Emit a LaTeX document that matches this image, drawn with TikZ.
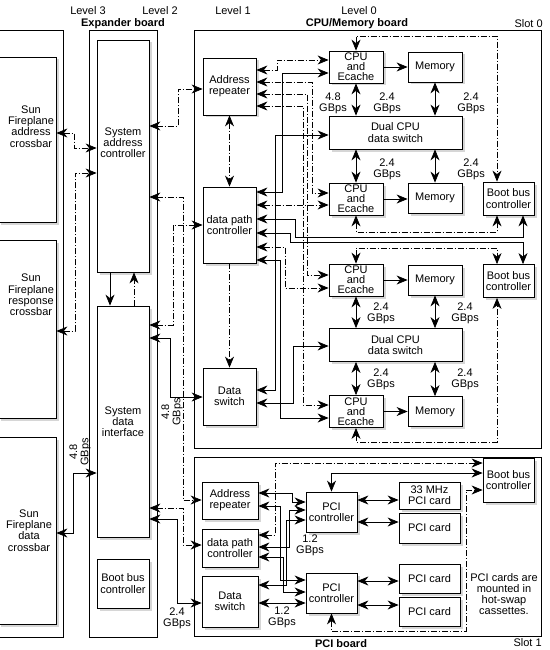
\documentclass[tikz,border=0pt]{standalone}
\usepackage{fontspec}
\setmainfont{Liberation Sans}
\usetikzlibrary{arrows.meta,shadows}

\begin{document}
\begin{tikzpicture}[x=1pt,y=-1pt,
  font=\fontsize{11}{11.2}\selectfont,
  line width=0.7pt,
  >={Stealth[length=11pt,width=9pt,inset=3.5pt]},
  box/.style={draw,fill=white,line width=0.8pt,align=center,inner sep=1pt,
    drop shadow={shadow xshift=2.5pt,shadow yshift=-2.5pt,fill=black!32}},
  cpu/.style={box,minimum width=54pt,minimum height=32pt,
    font=\fontsize{11}{10}\selectfont},
  mem/.style={box,minimum width=54pt,minimum height=30pt},
  dual/.style={box,minimum width=133pt,minimum height=33pt},
  bbc/.style={box,minimum width=51pt,minimum height=33pt},
  lvl/.style={box,minimum width=53pt},
  pcl/.style={box,minimum width=56pt},
  ctl/.style={box,minimum width=51pt,minimum height=40pt},
  card/.style={box,minimum width=61pt,minimum height=29pt},
  board/.style={draw,line width=0.8pt},
  addr/.style={dash pattern=on 6pt off 2pt on 1pt off 2pt},
  lbl/.style={align=center,inner sep=0pt},
  hd/.style={inner sep=0pt,font=\fontsize{11}{11}\selectfont\bfseries}]

\useasboundingbox (0,0) rectangle (549,650);
\clip (0,0) rectangle (549,650);

% board outlines
\draw[board] (0,30) -- (63,30) -- (63,637) -- (0,637);
\draw[board] (89,30) rectangle (157,637);
\draw[board] (194,30) rectangle (541,448);
\draw[board] (194,457) rectangle (541,636);

% headings
\node[lbl] (lv3) at (88,11) {Level 3};
\node[lbl] (lv2) at (160,11) {Level 2};
\node[lbl] (lv1) at (233,11) {Level 1};
\node[lbl] (lv0) at (359,11) {Level 0};
\node[hd] (exph) at (123,23.5) {Expander board};
\node[hd] (cpuh) at (357,23.5) {CPU/Memory board};
\node[lbl,anchor=east] (slot0) at (543,23.5) {Slot 0};
\node[hd] (pcih) at (341,644) {PCI board};
\node[lbl,anchor=east] (slot1) at (542,643) {Slot 1};

% Sun Fireplane crossbars
\node[box,minimum width=58pt,minimum height=165pt,
  label={[lbl,xshift=4pt,yshift=13pt]center:Sun\\Fireplane\\address\\crossbar}]
  (sunA) at (27,139.5) {};
\node[box,minimum width=58pt,minimum height=178pt,
  label={[lbl,xshift=4pt,yshift=34pt]center:Sun\\Fireplane\\response\\crossbar}]
  (sunR) at (27,329) {};
\node[box,minimum width=58pt,minimum height=187pt,
  label={[lbl,xshift=2pt]center:Sun\\Fireplane\\data\\crossbar}]
  (sunD) at (27,530.5) {};

% expander board
\node[box,minimum width=52pt,minimum height=232pt,
  label={[lbl,yshift=13pt]center:System\\address\\controller}] (sac) at (123,156) {};
\node[box,minimum width=52pt,minimum height=231pt] (sdi) at (123,421.5) {System\\data\\interface};
\node[box,minimum width=52pt,minimum height=49pt] (ebbc) at (123,583.5) {Boot bus\\controller};

% CPU/Memory board
\node[lvl,minimum height=57pt] (ar) at (229.5,86.5) {Address\\repeater};
\node[lvl,minimum height=76pt] (dpc) at (229.5,225) {data path\\controller};
\node[lvl,minimum height=57pt] (ds) at (229.5,396.5) {Data\\switch};
\node[cpu] (cpuA) at (356,67) {CPU\\and\\Ecache};
\node[mem] (memA) at (435,67) {Memory};
\node[dual] (dcdsA) at (395.5,132.5) {Dual CPU\\data switch};
\node[cpu] (cpuB) at (356,199) {CPU\\and\\Ecache};
\node[mem] (memB) at (435,198) {Memory};
\node[bbc] (bbcA) at (508.5,198.5) {Boot bus\\controller};
\node[cpu] (cpuC) at (356,280) {CPU\\and\\Ecache};
\node[mem] (memC) at (435,280) {Memory};
\node[bbc] (bbcB) at (508.5,281) {Boot bus\\controller};
\node[dual] (dcdsB) at (395.5,345) {Dual CPU\\data switch};
\node[cpu] (cpuD) at (356,411.5) {CPU\\and\\Ecache};
\node[mem] (memD) at (435,411.5) {Memory};

% PCI board
\node[pcl,minimum height=37pt] (par) at (230,500.5) {Address\\repeater};
\node[pcl,minimum height=38pt] (pdpc) at (230,548) {data path\\controller};
\node[pcl,minimum height=51pt] (pds) at (230,601.5) {Data\\switch};
\node[ctl] (pcA) at (331.5,512) {PCI\\controller};
\node[ctl] (pcB) at (331.5,593) {PCI\\controller};
\node[card,minimum height=27pt] (card33) at (429.5,495.5) {33 MHz\\PCI card};
\node[card,minimum height=30pt] (cardB) at (429.5,528) {PCI card};
\node[card] (cardC) at (429.5,578.5) {PCI card};
\node[card] (cardD) at (429.5,611.5) {PCI card};
\node[bbc,minimum height=44pt] (pbbc) at (508.5,480) {Boot bus\\controller};
\node[lbl] (note) at (504,594) {PCI cards are\\mounted in\\hot-swap\\cassettes.};

% bandwidth labels
\node[lbl] (bw0) at (333,103) {4.8\\GBps};
\node[lbl] (bw1) at (387,103) {2.4\\GBps};
\node[lbl] (bw2) at (471,103) {2.4\\GBps};
\node[lbl] (bw3) at (387,169) {2.4\\GBps};
\node[lbl] (bw4) at (471,169) {2.4\\GBps};
\node[lbl] (bw5) at (381,313) {2.4\\GBps};
\node[lbl] (bw6) at (465,313) {2.4\\GBps};
\node[lbl] (bw7) at (381,379) {2.4\\GBps};
\node[lbl] (bw8) at (465,379) {2.4\\GBps};
\node[lbl,rotate=90] (bwx) at (80,452) {4.8\\GBps};
\node[lbl,rotate=90] (bwy) at (172,412) {4.8\\GBps};
\node[lbl] (bwz) at (177,618) {2.4\\GBps};
\node[lbl] (bwp) at (310,545) {1.2\\GBps};
\node[lbl] (bwq) at (282,617) {1.2\\GBps};

% crossbars to expander
\draw[addr,<->] (sunA.east |- 0,133) -| (74,148) -- (sac.west |- 0,148);
\draw[addr,<->] (sunR.east |- 0,331) -| (75,173) -- (sac.west |- 0,173);
\draw[<->] (sunD.east |- 0,533) -| (73,473) -- (sdi.west |- 0,473);
\draw[->] (sac.south -| 110,0) -- (sdi.north -| 110,0);
\draw[addr,->] (sdi.north -| 134,0) -- (sac.south -| 134,0);

% expander to boards
\draw[addr,<->] (sac.east |- 0,126) -| (178,89) -- (ar.west |- 0,89);
\draw[addr,<->] (sac.east |- 0,197) -| (183,500) -- (par.west |- 0,500);
\draw[addr,<->] (sdi.east |- 0,325) -| (173,225) -- (dpc.west);
\draw[<->] (sdi.east |- 0,338) -| (170,397) -- (ds.west |- 0,397);
\draw[addr,<->] (sdi.east |- 0,508) -| (183,545) -- (pdpc.west |- 0,545);
\draw[<->] (sdi.east |- 0,519) -| (177,603) -- (pds.west |- 0,603);

% level 1 on CPU/Memory board
\draw[addr,<->] (ar) -- (dpc);
\draw[addr,->] (dpc) -- (ds);
\draw[addr,<->] (ar.east |- 0,70) -| (277,60) -- (cpuA.west |- 0,60);
\draw[addr,<->] (ar.east |- 0,82) -| (312,193) -- (cpuB.west |- 0,193);
\draw[addr,<->] (ar.east |- 0,94) -| (307,275) -- (cpuC.west |- 0,275);
\draw[addr,<->] (ar.east |- 0,106) -| (303,405) -- (cpuD.west |- 0,405);
\draw[<->] (dpc.east |- 0,192) -| (282,73) -- (cpuA.west |- 0,73);
\draw[addr,<->] (dpc.east |- 0,205) -- (cpuB.west |- 0,205);
\draw[<->] (dpc.east |- 0,219) -| (295,237) -| (bbcA.south -| 523,0);
\draw[<->] (dpc.east |- 0,233) -| (290,242) -| (bbcB.north -| 523,0);
\draw[addr,<->] (dpc.east |- 0,247) -| (285,288) -- (cpuC.west |- 0,288);
\draw[<->] (dpc.east |- 0,260) -| (280,418) -- (cpuD.west |- 0,418);
\draw[<->] (ds.east |- 0,390) -| (275,135) -- (dcdsA.west |- 0,135);
\draw[<->] (ds.east |- 0,403) -| (293,346) -- (dcdsB.west |- 0,346);

% boot bus lines
\draw[addr,<->] (cpuA.north) |- (497,36) -- (bbcA.north -| 497,0);
\draw[addr,<->] (cpuB.south) |- (497,232) -- (bbcA.south -| 497,0);
\draw[addr,<->] (cpuC.north) |- (497,248) -- (bbcB.north -| 497,0);
\draw[addr,<->] (cpuD.south) |- (497,442) -- (bbcB.south -| 497,0);

% level 0
\draw[->] (cpuA.east) -- (memA.west |- cpuA.east);
\draw[->] (cpuB.east) -- (memB.west |- cpuB.east);
\draw[->] (cpuC.east) -- (memC.west |- cpuC.east);
\draw[->] (cpuD.east) -- (memD.west |- cpuD.east);
\draw[<->] (cpuA.south) -- (dcdsA.north -| cpuA.south);
\draw[<->] (memA.south) -- (dcdsA.north -| memA.south);
\draw[<->] (dcdsA.south -| cpuB.north) -- (cpuB.north);
\draw[<->] (dcdsA.south -| memB.north) -- (memB.north);
\draw[<->] (cpuC.south) -- (dcdsB.north -| cpuC.south);
\draw[<->] (memC.south) -- (dcdsB.north -| memC.south);
\draw[<->] (dcdsB.south -| cpuD.north) -- (cpuD.north);
\draw[<->] (dcdsB.south -| memD.north) -- (memD.north);

% PCI board
\draw[addr,<->] (pdpc.east |- 0,535) -| (275,463) -- (pbbc.west |- 0,463);
\draw[<->] (pcA.north) |- (pbbc.west |- 0,473);
\draw[addr,<->] (pcB.south) |- (466,631) |- (pbbc.west |- 0,490);
\draw[<->] (par.east |- 0,493) -| (292,502) -- (pcA.west |- 0,502);
\draw[<->] (par.east |- 0,506) -| (280,580) -- (pcB.west |- 0,580);
\draw[<->] (pdpc.east |- 0,547) -| (289,510) -- (pcA.west |- 0,510);
\draw[<->] (pdpc.east |- 0,557) -| (283,592) -- (pcB.west |- 0,592);
\draw[<->] (pds.east |- 0,585) -| (286,520) -- (pcA.west |- 0,520);
\draw[<->] (pds.east |- 0,603) -- (pcB.west |- 0,603);
\draw[<->] (pcA.east |- 0,500) -- (card33.west |- 0,500);
\draw[<->] (pcA.east |- 0,522) -- (cardB.west |- 0,522);
\draw[<->] (pcB.east |- 0,581) -- (cardC.west |- 0,581);
\draw[<->] (pcB.east |- 0,605) -- (cardD.west |- 0,605);
\end{tikzpicture}
\end{document}
